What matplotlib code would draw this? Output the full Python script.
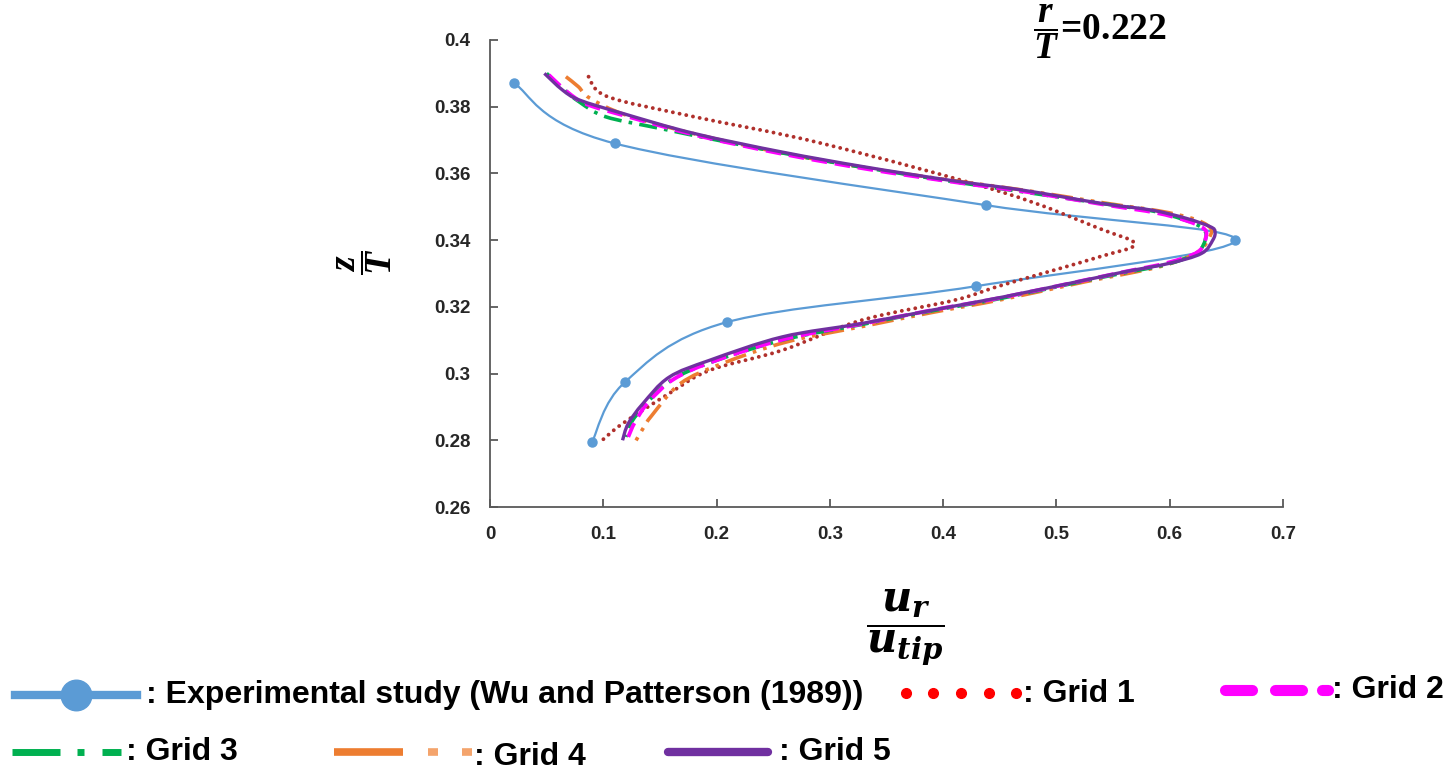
import matplotlib
matplotlib.use("Agg")
import matplotlib.pyplot as plt
import numpy as np
from matplotlib.path import Path
from matplotlib.patches import PathPatch
from matplotlib.lines import Line2D

plt.rcParams['font.family'] = ['Liberation Sans', 'DejaVu Sans']
plt.rcParams['mathtext.fontset'] = 'custom'
plt.rcParams['mathtext.it'] = 'Liberation Serif:italic:bold'
plt.rcParams['mathtext.rm'] = 'Liberation Serif:bold'
plt.rcParams['mathtext.bf'] = 'Liberation Serif:bold'
plt.rcParams['mathtext.sf'] = 'DejaVu Serif:italic:bold'

# experimental data (Wu and Patterson 1989)
exp_x = [0.021, 0.110, 0.4375, 0.658, 0.429, 0.209, 0.119, 0.090]
exp_y = [0.3871, 0.369, 0.3505, 0.340, 0.3262, 0.3154, 0.2974, 0.2794]

# grid 1
g1_x = [0.087, 0.104, 0.180, 0.293, 0.452, 0.537, 0.569,
        0.537, 0.452, 0.410, 0.328, 0.258, 0.194, 0.158, 0.117, 0.099]
g1_y = [0.389, 0.383, 0.377, 0.369, 0.3544, 0.3436, 0.3388,
        0.3349, 0.3265, 0.322, 0.316, 0.307, 0.301, 0.294, 0.285, 0.280]

# grid 2
g2_x = [0.052, 0.068, 0.085, 0.120, 0.185, 0.262, 0.335, 0.410, 0.475, 0.545, 0.588, 0.615, 0.630,
        0.632, 0.625, 0.598, 0.560, 0.525, 0.452, 0.390, 0.330, 0.262, 0.200, 0.163, 0.140, 0.128, 0.122]
g2_y = [0.3895, 0.3845, 0.3808, 0.3772, 0.3712, 0.3656, 0.3612, 0.3574, 0.3544, 0.3505, 0.3482, 0.3458, 0.3435,
        0.341, 0.3365, 0.3332, 0.3305, 0.328, 0.3228, 0.319, 0.315, 0.3105, 0.304, 0.2985, 0.2915, 0.2855, 0.281]

# grid 3
g3_x = [0.050, 0.064, 0.079, 0.102, 0.150, 0.215, 0.300, 0.400, 0.470, 0.540, 0.584, 0.612, 0.628,
        0.632, 0.624, 0.598, 0.560, 0.525, 0.452, 0.390, 0.328, 0.260, 0.196, 0.160, 0.138, 0.125, 0.120]
g3_y = [0.390, 0.3855, 0.3814, 0.377, 0.3735, 0.369, 0.3635, 0.358, 0.3545, 0.351, 0.3488, 0.3462, 0.3438,
        0.341, 0.3362, 0.3328, 0.3302, 0.3278, 0.3226, 0.3188, 0.3147, 0.3102, 0.3035, 0.298, 0.291, 0.2855, 0.281]

# grid 4
g4_x = [0.067, 0.078, 0.088, 0.120, 0.185, 0.260, 0.335, 0.410, 0.475, 0.545, 0.590, 0.620, 0.635,
        0.636, 0.625, 0.596, 0.560, 0.525, 0.452, 0.390, 0.330, 0.262, 0.205, 0.168, 0.143, 0.135, 0.128]
g4_y = [0.389, 0.386, 0.3826, 0.3775, 0.3715, 0.366, 0.3615, 0.3578, 0.3548, 0.351, 0.3488, 0.3465, 0.344,
        0.3415, 0.3365, 0.3325, 0.3298, 0.3275, 0.3222, 0.3183, 0.3142, 0.3095, 0.303, 0.297, 0.2875, 0.2835, 0.2794]

# grid 5
g5_x = [0.048, 0.064, 0.079, 0.117, 0.180, 0.258, 0.330, 0.405, 0.470, 0.540, 0.584, 0.615, 0.636,
        0.640, 0.638, 0.628, 0.599, 0.560, 0.525, 0.452, 0.390, 0.328, 0.258, 0.194, 0.158, 0.135, 0.122, 0.117]
g5_y = [0.390, 0.385, 0.382, 0.378, 0.372, 0.3664, 0.362, 0.358, 0.355, 0.351, 0.349, 0.3465, 0.344,
        0.3425, 0.340, 0.336, 0.333, 0.3305, 0.328, 0.3229, 0.319, 0.315, 0.311, 0.304, 0.2989, 0.291, 0.285, 0.280]

x_ticks = [0, 0.1, 0.2, 0.3, 0.4, 0.5, 0.6, 0.7]
x_ticklabels = ['0', '0.1', '0.2', '0.3', '0.4', '0.5', '0.6', '0.7']
y_ticks = [0.26, 0.28, 0.3, 0.32, 0.34, 0.36, 0.38, 0.4]
y_ticklabels = ['0.26', '0.28', '0.3', '0.32', '0.34', '0.36', '0.38', '0.4']


def smooth(x, y):
    # catmull-rom -> bezier, like excel smoothed lines
    pts = np.column_stack([x, y])
    p = np.vstack([pts[0], pts, pts[-1]])
    verts = [pts[0]]
    codes = [Path.MOVETO]
    for i in range(1, len(p) - 2):
        c1 = p[i] + (p[i + 1] - p[i - 1]) / 6
        c2 = p[i + 1] - (p[i + 2] - p[i]) / 6
        verts += [c1, c2, p[i + 1]]
        codes += [Path.CURVE4] * 3
    return Path(verts, codes)


fig = plt.figure(figsize=(14.52, 7.73), dpi=100)
ax = fig.add_axes([490 / 1452, 1 - 507 / 773, (1283 - 490) / 1452, (507 - 40) / 773])

c_exp = '#5b9bd5'
ax.add_patch(PathPatch(smooth(exp_x, exp_y), fill=False, edgecolor=c_exp, lw=1.6, zorder=2))
ax.plot(exp_x, exp_y, 'o', color=c_exp, ms=6.5, zorder=3)

ax.add_patch(PathPatch(smooth(g1_x, g1_y), fill=False, edgecolor='#b0302c', lw=2.8,
                       linestyle=(0, (0.01, 1.75)), capstyle='round', zorder=4))
ax.add_patch(PathPatch(smooth(g4_x, g4_y), fill=False, edgecolor='#ed7d31', lw=2.6,
                       linestyle=(0, (6, 2, 1, 2, 1, 2)), zorder=5))
ax.add_patch(PathPatch(smooth(g3_x, g3_y), fill=False, edgecolor='#00b050', lw=2.6,
                       linestyle=(0, (5, 2, 1, 2)), zorder=6))
ax.add_patch(PathPatch(smooth(g2_x, g2_y), fill=False, edgecolor='#ff00ff', lw=2.8,
                       linestyle=(0, (4, 2)), zorder=7))
ax.add_patch(PathPatch(smooth(g5_x, g5_y), fill=False, edgecolor='#7030a0', lw=2.4, zorder=8))

ax.set_xlim(0, 0.7)
ax.set_ylim(0.26, 0.4)
ax.set_xticks(x_ticks)
ax.set_xticklabels(x_ticklabels)
ax.set_yticks(y_ticks)
ax.set_yticklabels(y_ticklabels)
for s in ['top', 'right']:
    ax.spines[s].set_visible(False)
for s in ['left', 'bottom']:
    ax.spines[s].set_color('#595959')
    ax.spines[s].set_linewidth(1.3)
ax.tick_params(axis='both', direction='in', length=6, width=1.3, color='#595959',
               labelsize=13.5)
ax.tick_params(axis='x', pad=14)
ax.tick_params(axis='y', pad=14)
for lab in ax.get_xticklabels() + ax.get_yticklabels():
    lab.set_fontweight('bold')
    lab.set_color('#262626')

# axis labels as fractions
fig.text(365 / 1452, 1 - 262 / 773, r'$\dfrac{z}{T}$', fontsize=27, rotation=90,
         ha='center', va='center')
fig.text(905 / 1452, 1 - 627 / 773, r'$\dfrac{\mathsf{u_r}}{\mathsf{u_{tip}}}$', fontsize=30,
         ha='center', va='center')
fig.text(1033 / 1452, 1 - 32 / 773, r'$\dfrac{r}{T}$' + '=0.222', fontsize=27,
         family='Liberation Serif', fontweight='bold', ha='left', va='center')


# custom legend below the plot
def px(x, y):
    return x / 1452, 1 - y / 773


def leg_line(xs, y, **kw):
    (x0, yy), (x1, _) = px(xs[0], y), px(xs[1], y)
    fig.add_artist(Line2D([x0, x1], [yy, yy], transform=fig.transFigure, **kw))


leg_line((15, 137), 695, color=c_exp, lw=6)
fig.add_artist(Line2D([px(76, 695)[0]], [px(76, 695)[1]], transform=fig.transFigure,
                      marker='o', ms=22, color=c_exp, lw=0))
for xd in [906, 933, 961, 989, 1016]:
    fig.add_artist(Line2D([px(xd, 693)[0]], [px(xd, 693)[1]], transform=fig.transFigure,
                          marker='o', ms=7, color='#ff0000', lw=0))
for seg in [(1225, 1252), (1275, 1302), (1322, 1328)]:
    leg_line(seg, 690, color='#ff00ff', lw=8, solid_capstyle='round')
for seg in [(12, 60), (77, 84), (102, 121)]:
    leg_line(seg, 752, color='#00b050', lw=5, solid_capstyle='butt')
leg_line((334, 403), 752, color='#ed7d31', lw=5.5, solid_capstyle='butt')
for seg in [(428, 438), (462, 472)]:
    leg_line(seg, 752, color='#f4a46c', lw=5.5, solid_capstyle='butt')
leg_line((668, 768), 752, color='#7030a0', lw=6, solid_capstyle='round')

leg_kw = dict(fontsize=23, fontweight='bold', va='center', ha='left')
fig.text(*px(146, 695), ': Experimental study (Wu and Patterson (1989))', **leg_kw)
fig.text(*px(1023, 694), ': Grid 1', **leg_kw)
fig.text(*px(1332, 690), ': Grid 2', **leg_kw)
fig.text(*px(126, 752), ': Grid 3', **leg_kw)
fig.text(*px(474, 757), ': Grid 4', **leg_kw)
fig.text(*px(779, 752), ': Grid 5', **leg_kw)

fig.savefig('out.png', dpi=100)
